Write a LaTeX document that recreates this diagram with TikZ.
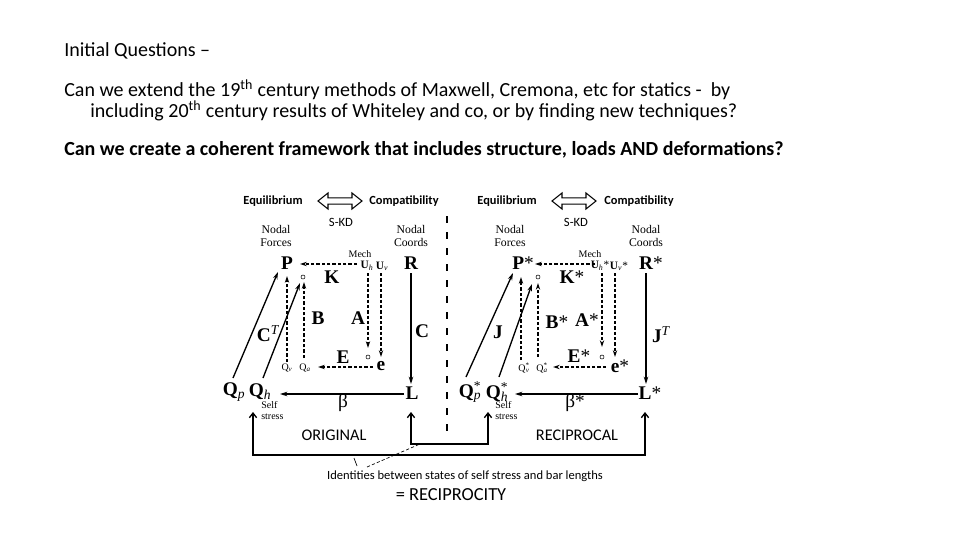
\documentclass[tikz,border=0pt]{standalone}
\usepackage{fontspec}
\setmainfont{Carlito}
\newfontfamily\tms{Liberation Serif}
\usetikzlibrary{arrows.meta}
\newcommand\dblarr[1]{\draw[line width=0.8pt, fill=white, shift={(#1)}] (-22,0) -- (-12,-8) -- (-12,-3.2) -- (12,-3.2) -- (12,-8) -- (22,0) -- (12,8) -- (12,3.2) -- (-12,3.2) -- (-12,8) -- cycle;}
\begin{document}
\begin{tikzpicture}[x=0.75pt,y=-0.75pt,
  big/.style={font=\tms\bfseries\fontsize{14.5}{16}\selectfont, inner sep=0.5pt},
  gr/.style={font=\tms\fontsize{14.5}{16}\selectfont, inner sep=0.5pt},
  lab/.style={font=\tms\fontsize{8.8}{10}\selectfont, align=center, inner sep=0},
  sm/.style={font=\tms\fontsize{7.5}{8}\selectfont, inner sep=0.5pt},
  smb/.style={font=\tms\bfseries\fontsize{8.5}{9}\selectfont, inner sep=0.5pt},
  selfst/.style={font=\tms\fontsize{7.5}{8.5}\selectfont, align=left, inner sep=0},
  hdr/.style={font=\bfseries\fontsize{9.3}{10}\selectfont, inner sep=0},
  sans/.style={font=\fontsize{9.5}{10}\selectfont, inner sep=0},
  caps/.style={font=\fontsize{12.2}{14}\selectfont, inner sep=0},
  top/.style={font=\fontsize{15}{18}\selectfont, inner sep=0, anchor=base west},
  sol/.style={line width=1pt, -{Stealth[length=5.5pt,width=3.4pt]}},
  dsh/.style={line width=0.8pt, dash pattern=on 2.4pt off 1.6pt, -{Stealth[length=5pt,width=3.2pt]}},
  dshl/.style={line width=0.5pt, dash pattern=on 2.4pt off 1.6pt},
  loops/.style={line width=1pt, {Straight Barb[length=3.5pt,width=5.5pt]}-{Straight Barb[length=3.5pt,width=5.5pt]}},
  circ/.style={circle, draw, line width=0.4pt, minimum size=3pt, inner sep=0},
  divider/.style={line width=1.9pt, dash pattern=on 5.2pt off 6.8pt},
]
\useasboundingbox[fill=white] (0,0) rectangle (960,540);

% top text
\node[top] (t1) at (64,56) {Initial Questions –};
\node[top] (t2) at (64,96) {Can we extend the 19\textsuperscript{th} century methods of Maxwell, Cremona, etc for statics -\ \ by};
\node[top] (t3) at (90,117) {including 20\textsuperscript{th} century results of Whiteley and co, or by finding new techniques?};
\node[top, font=\bfseries\fontsize{15}{18}\selectfont] (t4) at (64,155) {Can we create a coherent framework that includes structure, loads AND deformations?};

% ===== headers
\node[hdr] (eqL) at (273,201) {Equilibrium};
\node[hdr] (compL) at (404,201) {Compatibility};
\dblarr{340,201}
\node[hdr] (eqR) at (507,201) {Equilibrium};
\node[hdr] (compR) at (639,201) {Compatibility};
\dblarr{574,201}
\node[sans] (skdL) at (341,222) {S-KD};
\node[sans] (skdR) at (576,222) {S-KD};

\node[lab] (nfL) at (276,236) {Nodal\\Forces};
\node[lab] (ncL) at (411,236) {Nodal\\Coords};
\node[lab] (nfR) at (510,236) {Nodal\\Forces};
\node[lab] (ncR) at (646,236) {Nodal\\Coords};

% divider
\coordinate (dv1) at (447,216);
\coordinate (dv2) at (447,436);
\draw[divider] (dv1) -- (dv2);

% ===== LEFT
\node[big] (PL) at (287,263) {P};
\node[circ] (cL) at (303,277) {};
\node[big] (KL) at (332,277) {K};
\node[sm] (mechL) at (360,254) {Mech};
\node[smb] (UhL) at (367,266) {U\textsubscript{\itshape\mdseries h}};
\node[smb] (UvL) at (382,266) {U\textsubscript{\itshape\mdseries v}};
\node[big] (RL) at (411,263) {R};
\node[big] (BL) at (318,318) {B};
\node[big] (AL) at (358,318) {A};
\node[big] (CL) at (422,331) {C};
\node[big] (CTL) at (268,334) {C\textsuperscript{\itshape\mdseries T}};
\node[big] (EL) at (343,357) {E};
\node[circ] (c2L) at (368,357) {};
\node[big] (eL) at (381,366) {e};
\node[sm] (QvL) at (287,368) {Q\textsubscript{\itshape v}};
\node[sm] (QaL) at (305,368) {Q\textsubscript{\itshape a}};
\node[big] (QpL) at (234,392) {Q\textsubscript{\itshape\mdseries p}};
\node[big] (QhL) at (260,392) {Q\textsubscript{\itshape\mdseries h}};
\node[selfst, anchor=north west] (sL) at (261,401) {Self\\stress};
\node[big] (LL) at (412,393) {L};
\node[gr] (bL) at (343,403) {β};
\node[caps] (origL) at (334,435) {ORIGINAL};

\coordinate (aUh) at (357,264);  \coordinate (aP) at (300,264);
\coordinate (aQv) at (287,362);  \coordinate (aPv) at (287,276);
\coordinate (aQa) at (304,358);  \coordinate (acL) at (304,282);
\coordinate (aUh2) at (368,273); \coordinate (ac2L) at (368,348);
\coordinate (aUv) at (381,273);  \coordinate (aeL) at (381,357);
\coordinate (aeW) at (373,367);  \coordinate (aQaE) at (318,367);
\coordinate (aQp) at (233,378);  \coordinate (aPs) at (278,272);
\coordinate (aQh) at (263,378);  \coordinate (acL2) at (300,283);
\coordinate (aL) at (404,394);   \coordinate (aQhE) at (280,394);
\coordinate (aR) at (411,273);   \coordinate (aLn) at (411,384);
\draw[dsh] (aUh) -- (aP);
\draw[dsh] (aQv) -- (aPv);
\draw[dsh] (aQa) -- (acL);
\draw[dsh] (aUh2) -- (ac2L);
\draw[dsh] (aUv) -- (aeL);
\draw[dsh] (aeW) -- (aQaE);
\draw[sol] (aQp) -- (aPs);
\draw[sol] (aQh) -- (acL2);
\draw[sol] (aL) -- (aQhE);
\draw[sol] (aR) -- (aLn);

% ===== RIGHT
\node[big] (PR) at (523,263) {P{\mdseries*}};
\node[circ] (cR) at (538,277) {};
\node[big] (KR) at (572,277) {K{\mdseries*}};
\node[sm] (mechR) at (590,254) {Mech};
\node[smb] (UhR) at (600,266) {U\textsubscript{\itshape\mdseries h}{\mdseries*}};
\node[smb] (UvR) at (619,266) {U\textsubscript{\itshape\mdseries v}{\mdseries*}};
\node[big] (RR) at (651,263) {R{\mdseries*}};
\node[big] (BR) at (557,322) {B{\mdseries*}};
\node[big] (AR) at (587,320) {A{\mdseries*}};
\node[big] (JTR) at (661,335) {J\textsuperscript{\itshape\mdseries T}};
\node[big] (JR) at (498,332) {J};
\node[big] (ER) at (579,356) {E{\mdseries*}};
\node[circ] (c2R) at (602,357) {};
\node[big] (eR) at (620,366) {e{\mdseries*}};
\node[sm] (QvR) at (524,368) {Q\textsuperscript{*}\llap{\textsubscript{\itshape v}}};
\node[sm] (QaR) at (542,368) {Q\textsuperscript{*}\llap{\textsubscript{\itshape a}}};
\node[big] (QpR) at (470,392) {Q\textsuperscript{\mdseries*}\llap{\textsubscript{\itshape\mdseries p}}};
\node[big] (QhR) at (497,392) {Q\textsuperscript{\mdseries*}\llap{\textsubscript{\itshape\mdseries h}}};
\node[selfst, anchor=north west] (sR) at (495,401) {Self\\stress};
\node[big] (LR) at (650,393) {L{\mdseries*}};
\node[gr] (bR) at (575,403) {β{\mdseries*}};
\node[caps] (recR) at (577,435) {RECIPROCAL};

\coordinate (bUh) at (595,264);  \coordinate (bP) at (535,264);
\coordinate (bQv) at (521,360);  \coordinate (bPv) at (521,277);
\coordinate (bQa) at (538,357);  \coordinate (bcR) at (538,283);
\coordinate (bUh2) at (602,273); \coordinate (bc2R) at (602,347);
\coordinate (bUv) at (615,273);  \coordinate (beR) at (615,357);
\coordinate (beW) at (606,367);  \coordinate (bQaE) at (553,367);
\coordinate (bQp) at (466,377);  \coordinate (bPs) at (513,273);
\coordinate (bQh) at (499,377);  \coordinate (bcR2) at (532,284);
\coordinate (bL) at (638,394);   \coordinate (bQhE) at (515,394);
\coordinate (bR) at (646,273);   \coordinate (bLn) at (646,384);
\draw[dsh] (bUh) -- (bP);
\draw[dsh] (bQv) -- (bPv);
\draw[dsh] (bQa) -- (bcR);
\draw[dsh] (bUh2) -- (bc2R);
\draw[dsh] (bUv) -- (beR);
\draw[dsh] (beW) -- (bQaE);
\draw[sol] (bQp) -- (bPs);
\draw[sol] (bQh) -- (bcR2);
\draw[sol] (bL) -- (bQhE);
\draw[sol] (bR) -- (bLn);

% ===== bottom loops
\coordinate (t1L) at (253,412);
\coordinate (b1) at (253,455);
\coordinate (b2) at (645,455);
\coordinate (t2R) at (645,412);
\draw[loops] (t1L) -- (b1) -- (b2) -- (t2R);
\coordinate (ti1) at (411,412);
\coordinate (i1) at (411,444);
\coordinate (i2) at (488,444);
\coordinate (ti2) at (488,412);
\draw[loops] (ti1) -- (i1) -- (i2) -- (ti2);

\node[font=\fontsize{9.4}{11}\selectfont, inner sep=0] (idt) at (465,476) {Identities between states of self stress and bar lengths};
\node[font=\fontsize{13.8}{16}\selectfont, inner sep=0] (recip) at (451,495) {= RECIPROCITY};
\coordinate (l1a) at (357,466);
\coordinate (l1b) at (354,458);
\coordinate (l2a) at (367,467);
\coordinate (l2b) at (420,444);
\draw[line width=0.5pt] (l1a) -- (l1b);
\draw[dshl] (l2a) -- (l2b);
\end{tikzpicture}
\end{document}
